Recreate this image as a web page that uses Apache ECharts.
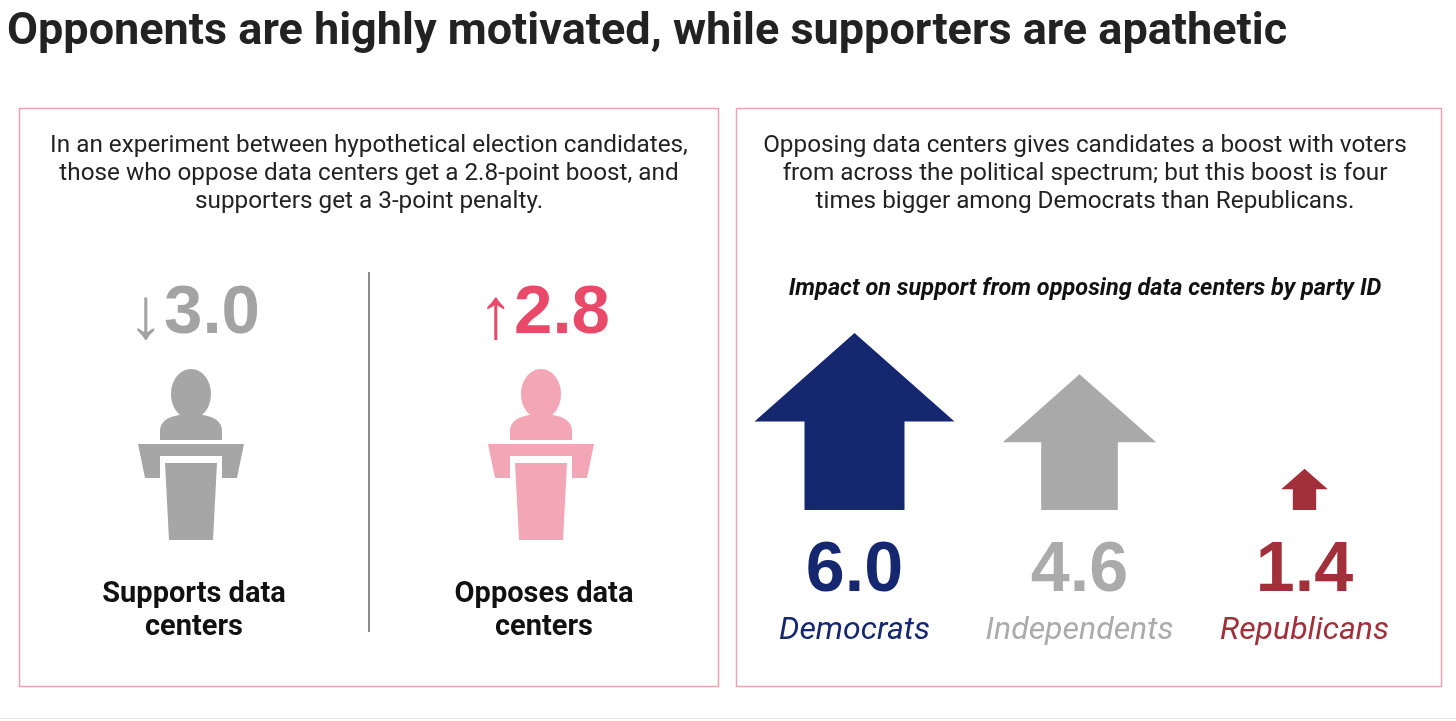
<!DOCTYPE html>
<html>
<head>
<meta charset="utf-8">
<script src="https://cdn.jsdelivr.net/npm/echarts@6/dist/echarts.min.js"></script>
<style>
  html, body { margin: 0; padding: 0; background: #fff; }
  #chart { width: 1456px; height: 721px; }
</style>
</head>
<body>
<div id="chart"></div>
<script>
// left panel: the experiment
var stanceNames = ['Supports data\ncenters', 'Opposes data\ncenters'];
var stanceValues = [-3.0, 2.8];

// right panel: impact by party
var parties = ['Democrats', 'Independents', 'Republicans'];
var partyValues = [6.0, 4.6, 1.4];

var FONT = 'Roboto, "Noto Sans", sans-serif';
var NUM_FONT = '"Liberation Sans", Arial, sans-serif';

var stanceColors = [
    { icon: '#a6a6a6', text: '#a3a3a3' },
    { icon: '#f2a6b6', text: '#e94a69' }
];
var partyColors = [
    { arrow: '#15276f', text: '#15276f' },
    { arrow: '#a9a9a9', text: '#ababab' },
    { arrow: '#a2303a', text: '#a2303a' }
];

var myChart = echarts.init(document.getElementById('chart'));

//讲台图标 (podium), local coords: origin at bottom centre
function podium(cx, gy, color) {
    function pts(list) {
        return list.map(function (p) { return [cx + p[0], gy + p[1]]; });
    }
    return [
        { type: 'ellipse', shape: { cx: cx, cy: gy - 146, rx: 20, ry: 25 }, style: { fill: color } },
        {
            type: 'path',
            shape: {
                pathData: 'M' + (cx - 31) + ' ' + (gy - 100) +
                    ' L' + (cx - 31) + ' ' + (gy - 110) +
                    ' Q' + (cx - 30) + ' ' + (gy - 122) + ' ' + (cx - 12) + ' ' + (gy - 125) +
                    ' L' + (cx + 12) + ' ' + (gy - 125) +
                    ' Q' + (cx + 30) + ' ' + (gy - 122) + ' ' + (cx + 31) + ' ' + (gy - 110) +
                    ' L' + (cx + 31) + ' ' + (gy - 100) + ' Z'
            },
            style: { fill: color }
        },
        {
            type: 'polygon',
            shape: { points: pts([[-53, -96], [53, -96], [46, -62], [31, -62], [31, -84], [-31, -84], [-31, -62], [-46, -62]]) },
            style: { fill: color }
        },
        {
            type: 'polygon',
            shape: { points: pts([[-26, -77], [26, -77], [22, 0], [-22, 0]]) },
            style: { fill: color }
        }
    ];
}

function renderStance(params, api) {
    var i = params.dataIndex;
    var v = api.value(1);
    var base = api.coord([api.value(0), 0]);
    var cx = base[0], gy = base[1];
    var c = stanceColors[i];
    var arrow = v < 0 ? '↓' : '↑';
    var children = podium(cx, gy, c.icon);
    children.push({
        type: 'text',
        style: {
            text: '{a|' + arrow + '}{b|' + Math.abs(v).toFixed(1) + '}',
            x: cx + 3, y: gy - 226,
            align: 'center', verticalAlign: 'middle',
            rich: {
                a: { fontSize: 72, fontFamily: NUM_FONT, fontWeight: 'normal', fill: c.text, padding: [8, 0, 0, 0] },
                b: { fontSize: 69, fontFamily: NUM_FONT, fontWeight: 'bold', fill: c.text }
            }
        }
    });
    children.push({
        type: 'text',
        style: {
            text: stanceNames[i],
            x: cx + 3, y: gy + 71,
            align: 'center', verticalAlign: 'middle',
            fontSize: 29, fontWeight: 'bold', fontFamily: FONT,
            lineHeight: 33, fill: '#111'
        }
    });
    return { type: 'group', children: children };
}

function renderParty(params, api) {
    var i = params.dataIndex;
    var v = api.value(1);
    var base = api.coord([api.value(0), 0]);
    var tip = api.coord([api.value(0), v]);
    var cx = base[0];
    var h = base[1] - tip[1];
    var w = h * 1.13;
    var neck = tip[1] + h / 2;
    var c = partyColors[i];
    return {
        type: 'group',
        children: [
            {
                type: 'polygon',
                shape: {
                    points: [
                        [cx, tip[1]], [cx + w / 2, neck], [cx + w / 4, neck], [cx + w / 4, base[1]],
                        [cx - w / 4, base[1]], [cx - w / 4, neck], [cx - w / 2, neck]
                    ]
                },
                style: { fill: c.arrow }
            },
            {
                type: 'text',
                style: {
                    text: v.toFixed(1), x: cx, y: base[1] + 62,
                    align: 'center', verticalAlign: 'middle',
                    fontSize: 70, fontWeight: 'bold', fontFamily: NUM_FONT, fill: c.text
                }
            },
            {
                type: 'text',
                style: {
                    text: parties[i], x: cx, y: base[1] + 121,
                    align: 'center', verticalAlign: 'middle',
                    fontSize: 32, fontStyle: 'italic', fontFamily: FONT, fill: c.text
                }
            }
        ]
    };
}

var boxStyle = { fill: 'none', stroke: '#eba3b1', lineWidth: 1.5 };

var option = {
    animation: false,
    grid: [
        { left: 16, width: 700, top: 240, height: 300 },
        { left: 742, width: 675, top: 274, height: 236 }
    ],
    xAxis: [
        { type: 'category', gridIndex: 0, data: stanceNames, show: false },
        { type: 'category', gridIndex: 1, data: parties, show: false }
    ],
    yAxis: [
        { type: 'value', gridIndex: 0, min: 0, max: 1, show: false },
        { type: 'value', gridIndex: 1, min: 0, max: 8, show: false }
    ],
    graphic: [
        {
            type: 'text', left: 7, top: 10,
            style: {
                text: 'Opponents are highly motivated, while supporters are apathetic',
                fontSize: 45, fontWeight: 'bold', fontFamily: FONT, fill: '#222'
            }
        },
        { type: 'rect', shape: { x: 19.5, y: 108.5, width: 699, height: 578 }, style: boxStyle },
        { type: 'rect', shape: { x: 736.5, y: 108.5, width: 705, height: 578 }, style: boxStyle },
        {
            type: 'text', x: 369, y: 174,
            style: {
                text: 'In an experiment between hypothetical election candidates,\nthose who oppose data centers get a 2.8-point boost, and\nsupporters get a 3-point penalty.',
                align: 'center', verticalAlign: 'middle',
                fontSize: 24.3, lineHeight: 28, fontFamily: FONT, fill: '#222'
            }
        },
        {
            type: 'text', x: 1085, y: 174,
            style: {
                text: 'Opposing data centers gives candidates a boost with voters\nfrom across the political spectrum; but this boost is four\ntimes bigger among Democrats than Republicans.',
                align: 'center', verticalAlign: 'middle',
                fontSize: 24.3, lineHeight: 28, fontFamily: FONT, fill: '#222'
            }
        },
        {
            type: 'text', x: 1085, y: 289,
            style: {
                text: 'Impact on support from opposing data centers by party ID',
                align: 'center', verticalAlign: 'middle',
                fontSize: 23.5, fontWeight: 'bold', fontStyle: 'italic', fontFamily: FONT, fill: '#111'
            }
        },
        {
            type: 'line', shape: { x1: 369, y1: 272, x2: 369, y2: 632 },
            style: { stroke: '#8c8c8c', lineWidth: 2 }
        },
        {
            type: 'line', shape: { x1: 0, y1: 718.5, x2: 1456, y2: 718.5 },
            style: { stroke: '#e8e8e8', lineWidth: 1 }
        }
    ],
    series: [
        {
            type: 'custom',
            xAxisIndex: 0, yAxisIndex: 0,
            renderItem: renderStance,
            data: stanceValues.map(function (v, i) { return [i, v]; })
        },
        {
            type: 'custom',
            xAxisIndex: 1, yAxisIndex: 1,
            renderItem: renderParty,
            data: partyValues.map(function (v, i) { return [i, v]; })
        }
    ]
};

myChart.setOption(option);
</script>
</body>
</html>
